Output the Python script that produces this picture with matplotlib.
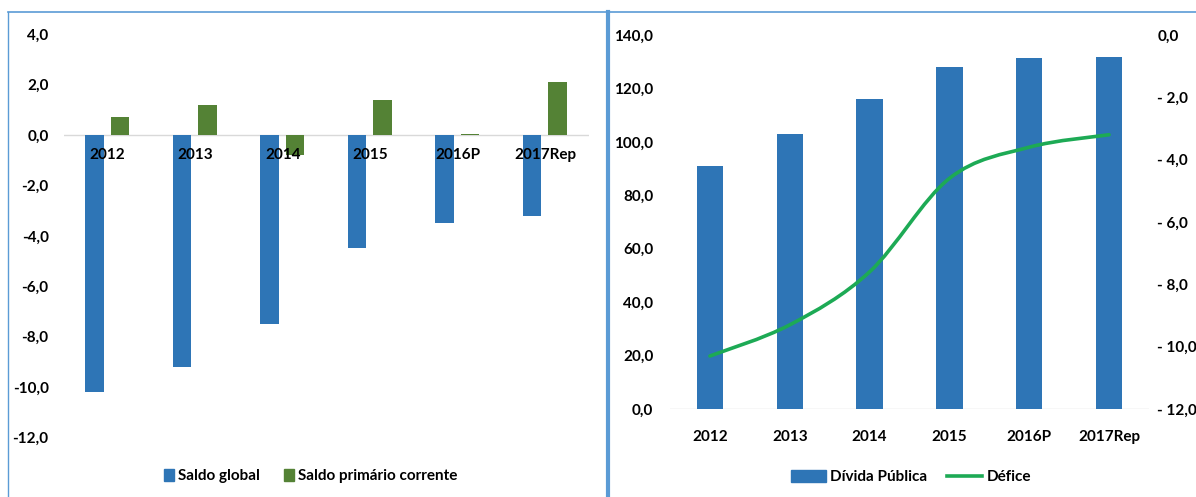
import numpy as np
import matplotlib
matplotlib.use("Agg")
import matplotlib.pyplot as plt
from matplotlib.path import Path
from matplotlib.patches import PathPatch, Patch
from matplotlib.lines import Line2D

plt.rcParams['font.family'] = ['Lato', 'DejaVu Sans']
plt.rcParams['font.weight'] = 'bold'

anos = ['2012', '2013', '2014', '2015', '2016P', '2017Rep']
saldo_global = [-10.2, -9.2, -7.5, -4.5, -3.5, -3.2]
saldo_primario = [0.7, 1.2, -0.8, 1.4, 0.05, 2.1]
divida_publica = [91.0, 103.1, 116.0, 127.9, 131.3, 131.8]
defice = [-10.3, -9.3, -7.6, -4.6, -3.6, -3.2]

azul = '#2E75B6'
verde = '#548235'
verde_linha = '#1DAA55'
moldura = '#5B9BD5'
fs = 11


def fmt(v):
    return f'{v:.1f}'.replace('.', ',')


def fmt_contab(v):
    if abs(v) < 1e-9:
        return '0,0'
    s = f'{abs(v):.1f}'.replace('.', ',')
    return '- ' + s if v < 0 else s


fig = plt.figure(figsize=(11.96, 4.97), dpi=100)
W, H = 1196, 497

# molduras dos dois painéis
fig.add_artist(Line2D([8 / W, 8 / W], [0, 1 - 12 / H], color=moldura, lw=1.0))
fig.add_artist(Line2D([8 / W, 1], [1 - 12 / H, 1 - 12 / H], color=moldura, lw=1.2))
fig.add_artist(Line2D([608 / W, 608 / W], [0, 1 - 12 / H], color=moldura, lw=3.0))

x = np.arange(len(anos))

# ---- painel esquerdo: saldos ----
ax1 = fig.add_axes([64 / W, 1 - 437.4 / H, 525 / W, 403.2 / H])
w = 0.21
ax1.bar(x - 0.15, saldo_global, w, color=azul)
ax1.bar(x + 0.14, saldo_primario, w, color=verde)
ax1.set_xlim(-0.5, len(anos) - 0.5)
ax1.set_ylim(-12, 4)
ax1.axhline(0, color='#D9D9D9', lw=1.0, zorder=0)
for s in ax1.spines.values():
    s.set_visible(False)
ax1.set_yticks(np.arange(-12, 4.1, 2))
ax1.set_yticklabels([fmt(v) for v in np.arange(-12, 4.1, 2)])
ax1.tick_params(axis='y', length=0, pad=11, labelsize=fs)
ax1.set_xticks([])
for i, a in enumerate(anos):
    ax1.text(i, -0.5, a, ha='center', va='top', fontsize=fs, fontweight='bold')
h1 = [Patch(color=azul), Patch(color=verde)]
fig.legend(h1, ['Saldo global', 'Saldo primário corrente'], loc='center',
           bbox_to_anchor=(311 / W, 1 - 476 / H), ncol=2, frameon=False,
           fontsize=fs, handlelength=0.6, handleheight=0.9,
           handletextpad=0.3, columnspacing=1.6)

# ---- painel direito: dívida e défice ----
ax2 = fig.add_axes([670 / W, 1 - 409 / H, 479 / W, 374 / H])
ax2.bar(x, divida_publica, 0.33, color=azul)
ax2.set_xlim(-0.5, len(anos) - 0.5)
ax2.set_ylim(0, 140)
for s in ax2.spines.values():
    s.set_visible(False)
ax2.axhline(0, color='#D9D9D9', lw=1.0, zorder=0)
ax2.set_yticks(np.arange(0, 141, 20))
ax2.set_yticklabels([fmt(v) for v in np.arange(0, 141, 20)])
ax2.tick_params(axis='y', length=0, pad=12, labelsize=fs)
ax2.set_xticks(x)
ax2.set_xticklabels(anos)
ax2.tick_params(axis='x', length=0, pad=15, labelsize=fs)

ax3 = ax2.twinx()
ax3.set_ylim(-12, 0)
for s in ax3.spines.values():
    s.set_visible(False)
ax3.set_yticks(np.arange(-12, 0.1, 2))
ax3.set_yticklabels([fmt_contab(v) for v in np.arange(-12, 0.1, 2)], ha='left')
ax3.tick_params(axis='y', length=0, pad=6, labelsize=fs)

# linha suavizada do défice (curvas de Bézier pelos pontos)
pts = np.column_stack([x, defice]).astype(float)
ext = np.vstack([pts[0], pts, pts[-1]])
verts = [tuple(pts[0])]
codes = [Path.MOVETO]
for i in range(len(pts) - 1):
    p0, p1, p2, p3 = ext[i], ext[i + 1], ext[i + 2], ext[i + 3]
    c1 = p1 + (p2 - p0) / 6
    c2 = p2 - (p3 - p1) / 6
    verts += [tuple(c1), tuple(c2), tuple(p2)]
    codes += [Path.CURVE4] * 3
ax3.add_patch(PathPatch(Path(verts, codes), facecolor='none',
                        edgecolor=verde_linha, lw=2.6, capstyle='round'))

h2 = [Patch(color=azul), Line2D([], [], color=verde_linha, lw=2.6)]
fig.legend(h2, ['Dívida Pública', 'Défice'], loc='center',
           bbox_to_anchor=(911 / W, 1 - 477 / H), ncol=2, frameon=False,
           fontsize=fs, handlelength=2.3, handleheight=0.9,
           handletextpad=0.3, columnspacing=1.3)

fig.savefig('out.png', dpi=100, facecolor='white')
